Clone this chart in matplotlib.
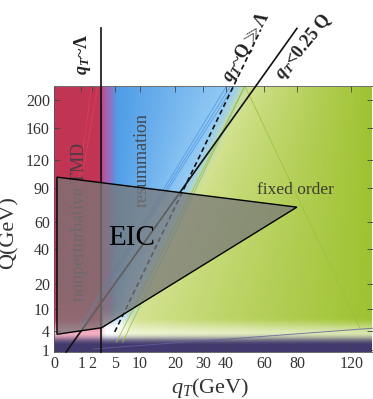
import numpy as np
import matplotlib
matplotlib.use('Agg')
import matplotlib.pyplot as plt
from matplotlib.patches import Polygon

plt.rcParams['font.family'] = ['Liberation Serif', 'DejaVu Serif']
plt.rcParams['mathtext.fontset'] = 'custom'
plt.rcParams['mathtext.rm'] = 'Liberation Serif'
plt.rcParams['mathtext.it'] = 'Liberation Serif:italic'
plt.rcParams['mathtext.bf'] = 'Liberation Serif:bold'
has_bfit = 'mathtext.bfit' in plt.rcParams
if has_bfit:
    plt.rcParams['mathtext.bfit'] = 'Liberation Serif:italic:bold'

# axis ranges and ticks (GeV)
qt_range = (0.0, 138.0)
q_range = (0.8, 221.0)
qt_ticks = [0, 1, 2, 5, 10, 20, 30, 40, 60, 80, 120]
q_ticks = [1, 4, 10, 20, 40, 60, 90, 120, 160, 200]

# EIC kinematic region (qT, Q)
eic_qt = [0.012, 80.0, 3.08, 0.012]
eic_q = [101.6, 72.3, 4.7, 3.33]

# boundary lines (qT, Q endpoints)
lam_qt = [3.0, 3.0]
lam_q = [0.8, 320.0]
dash_qt = [5.0, 58.0]
dash_q = [3.8, 318.0]
quarter_qt = [0.2, 80.0]
quarter_q = [0.8, 320.0]

# thin region edges
blue_edges = [([1.1, 40.4], [6.0, 221.0]),
              ([1.15, 42.2], [6.0, 221.0]),
              ([1.19, 43.8], [6.0, 221.0])]
red_edges = [([0.35, 1.92], [40.0, 221.0]),
             ([0.9, 2.6], [90.0, 221.0])]
green_edges = [([5.3, 49.4], [2.0, 221.0]),
               ([6.4, 49.4], [2.0, 221.0]),
               ([126.7, 49.4], [4.65, 221.0])]
floor_qt = [2.0, 138.0]
floor_q = [1.1, 4.6]


def fwd(x):
    return np.sqrt(np.clip(x, 0, None))


def inv(x):
    return np.square(x)


def smooth(t):
    t = np.clip(t, 0, 1)
    return t * t * (3 - 2 * t)


def mix(a, b, w):
    w = w[..., None]
    return a * (1 - w) + b * w


def rgb(r, g, b):
    return np.array([r, g, b]) / 255.0


# background shading, worked out in sqrt(qT), sqrt(Q)
qt_grid = np.linspace(qt_range[0], qt_range[1], 1400)
q_grid = np.linspace(q_range[0], q_range[1], 2400)
U, V = np.meshgrid(np.sqrt(qt_grid), np.sqrt(q_grid))
ones = np.ones_like(U)[..., None]

red_top, red_low = rgb(194, 52, 84), rgb(230, 62, 110)
purple = rgb(170, 96, 176)
blue_l, blue_r = rgb(74, 154, 230), rgb(150, 204, 245)
green_l, green_r = rgb(214, 228, 150), rgb(158, 194, 48)
white = rgb(255, 255, 255)
navy = rgb(66, 58, 110)

red = mix(red_low * ones, red_top * ones, smooth((V - 1.5) / 3.0))
u_dash = 1.583 + 0.339 * V
u_green = 1.876 + 0.346 * V
tb = np.clip((U - 2.0) / np.maximum(u_dash - 2.0, 0.3), 0, 1)
blue = mix(blue_l * ones, blue_r * ones, tb)
blue = mix(white * ones, blue, smooth((V - 1.9) / 1.4))
pur = mix(white * ones, purple * ones, smooth((V - 1.9) / 1.4))
left = mix(red, pur, smooth((U - 1.6) / 0.3))
left = mix(left, blue, smooth((U - 1.86) / 0.5))
tg = np.clip((U - u_green) / (11.75 - u_green), 0, 1) ** 0.85
green = mix(green_l * ones, green_r * ones, tg)
wbg = smooth((U - (u_dash - 0.12)) / ((u_green + 0.35) - (u_dash - 0.12)))
col = mix(left, green, wbg)
col = mix(col, white * ones, 0.6 * smooth((2.7 - V) / 0.9))
col = mix(col, navy * ones, smooth((1.88 - V) / 0.66))

fig = plt.figure(figsize=(3.73, 3.99), dpi=100)
ax = fig.add_axes([54 / 373, 47 / 399, 319 / 373, 266 / 399])
ax.set_xscale('function', functions=(fwd, inv))
ax.set_yscale('function', functions=(fwd, inv))

ax.imshow(col, origin='lower', aspect='auto', interpolation='nearest',
          extent=(qt_range[0], qt_range[1], q_range[0], q_range[1]), zorder=0)

for xs, ys in blue_edges:
    ax.plot(xs, ys, color='#4a90e0', lw=0.6, alpha=0.8, zorder=1)
for xs, ys in red_edges:
    ax.plot(xs, ys, color='#e0405a', lw=0.6, alpha=0.8, zorder=1)
for xs, ys in green_edges:
    ax.plot(xs, ys, color='#9cc040', lw=0.7, alpha=0.8, zorder=1)
ax.plot(floor_qt, floor_q, color='#6060a0', lw=0.7, alpha=0.8, zorder=1)

ax.text(10.5, 120.8, 'resummation', rotation=90, fontsize=13, color='#44444c',
        ha='center', va='center', zorder=2)
ax.text(0.915, 59.7, 'nonperturbative TMD', rotation=90, fontsize=13,
        color='#4a3c44', ha='center', va='center', zorder=2)
ax.text(79.3, 88.6, 'fixed order', fontsize=12.5, color='#3c3c30',
        ha='center', va='center', zorder=6)

ax.plot(lam_qt, lam_q, color='#111111', lw=1.2, clip_on=False, zorder=3)
ax.plot(dash_qt, dash_q, color='#111111', lw=1.2, ls=(0, (3, 2)), clip_on=False, zorder=3)
ax.plot(quarter_qt, quarter_q, color='#111111', lw=1.2, clip_on=False, zorder=3)

eic = Polygon(list(zip(eic_qt, eic_q)), closed=True, facecolor='#787878',
              alpha=0.75, edgecolor='none', zorder=4)
ax.add_patch(eic)
eic_edge = Polygon(list(zip(eic_qt, eic_q)), closed=True, facecolor='none',
                   edgecolor='black', lw=1.0, zorder=4.5)
ax.add_patch(eic_edge)
ax.text(8.24, 47.4, 'EIC', fontsize=21, color='black', ha='center', va='center', zorder=5)

if has_bfit:
    qt_b = r'$\mathbfit{q}_\mathbfit{T}$'
else:
    qt_b = r'$\mathbf{q}_\mathbf{T}$'
ax.text(1.1, 274.0, qt_b + '~Λ', rotation=90, fontsize=13, fontweight='bold',
        ha='center', va='center', color='#222222', clip_on=False)
ax.text(50.5, 286.0, qt_b + r'~Q$\gg$Λ', rotation=60, fontsize=13, fontweight='bold',
        ha='center', va='center', color='#222222', clip_on=False)
ax.text(84.5, 286.0, qt_b + '<0.25 Q', rotation=51, fontsize=13, fontweight='bold',
        ha='center', va='center', color='#222222', clip_on=False)

ax.set_xlim(qt_range)
ax.set_ylim(q_range)
ax.set_xticks(qt_ticks)
ax.set_xticklabels([str(t) for t in qt_ticks])
ax.set_yticks(q_ticks)
ax.set_yticklabels([str(t) for t in q_ticks])
ax.minorticks_off()
ax.tick_params(direction='in', length=4, width=0.6, color='#444444',
               top=True, right=True, labelsize=11.5, labelcolor='#333333', pad=3)
for s in ax.spines.values():
    s.set_linewidth(0.6)
    s.set_color('#555555')

ax.set_xlabel(r'$q_T$(GeV)', fontsize=16, color='#333333')
ax.set_ylabel('Q(GeV)', fontsize=16, color='#333333')
ax.xaxis.set_label_coords(0.49, -0.09)
ax.yaxis.set_label_coords(-0.11, 0.45)

fig.savefig('out.png', dpi=100)
